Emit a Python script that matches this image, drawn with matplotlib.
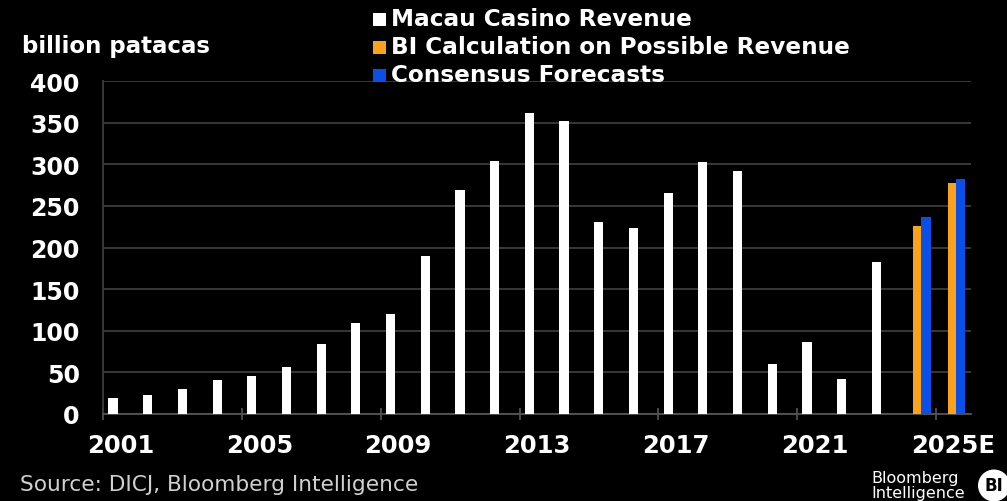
import matplotlib
matplotlib.use("Agg")
import matplotlib.pyplot as plt
from matplotlib.patches import Rectangle, Ellipse
import numpy as np

# ---- data ----
years = ["2001", "2002", "2003", "2004", "2005", "2006", "2007", "2008", "2009",
         "2010", "2011", "2012", "2013", "2014", "2015", "2016", "2017", "2018",
         "2019", "2020", "2021", "2022", "2023", "2024", "2025E"]
macau_revenue = [19.5, 23.0, 29.5, 41.0, 46.0, 57.0, 84.0, 109.5, 120.0,
                 189.5, 268.5, 304.0, 361.0, 352.0, 231.0, 223.0, 266.0, 303.0,
                 292.0, 60.5, 87.0, 42.5, 183.0, None, None]
bi_calc = [None] * 23 + [226.0, 277.0]
consensus = [None] * 23 + [236.5, 282.5]
tick_label_years = ["2001", "2005", "2009", "2013", "2017", "2021", "2025E"]
y_ticks = [0, 50, 100, 150, 200, 250, 300, 350, 400]
legend_labels = ["Macau Casino Revenue", "BI Calculation on Possible Revenue", "Consensus Forecasts"]

WHITE = "#ffffff"
ORANGE = "#fba21c"
BLUE = "#0a50e8"
GRID = "#3c3c3c"

fig = plt.figure(figsize=(10.07, 5.02), dpi=100, facecolor="black")
ax = fig.add_axes([103.3 / 1007, 1 - 415 / 502, (970.7 - 103.3) / 1007, (415 - 82) / 502])
ax.set_facecolor("black")

w = 0.265

def pick(vals):
    xs, hs = [], []
    for i, v in enumerate(vals):
        if v is not None:
            xs.append(i)
            hs.append(v)
    return np.array(xs), np.array(hs)

xw, hw = pick(macau_revenue)
xo, ho = pick(bi_calc)
xb, hb = pick(consensus)
ax.bar(xw - 0.22, hw, width=w, color=WHITE, zorder=3)
ax.bar(xo - 0.02, ho, width=w, color=ORANGE, zorder=3)
ax.bar(xb + 0.21, hb, width=w, color=BLUE, zorder=4)

ax.set_xlim(-0.5, len(years) - 0.5)
ax.set_ylim(0, 400)

ax.set_yticks(y_ticks)
ax.set_yticklabels([str(v) for v in y_ticks], color="white", fontsize=17, fontweight="bold")
ax.tick_params(axis="y", length=0, pad=17)
ax.yaxis.grid(True, color=GRID, linewidth=1.3, zorder=0)

label_pos = [years.index(t) for t in tick_label_years]
ax.set_xticks(label_pos)
ax.set_xticklabels(tick_label_years, color="white", fontsize=17.5, fontweight="bold")
ax.tick_params(axis="x", which="major", length=0, pad=14)
ax.set_xticks([p - 0.5 for p in label_pos], minor=True)
ax.tick_params(axis="x", which="minor", length=9, direction="inout", color="#555555", width=1.2)

for s in ["top", "right"]:
    ax.spines[s].set_visible(False)
ax.spines["left"].set_color(GRID)
ax.spines["left"].set_linewidth(1.3)
ax.spines["bottom"].set_color("#555555")
ax.spines["bottom"].set_linewidth(1.3)

# unit label
fig.text(22 / 1007, 1 - 46 / 502, "billion patacas", color="white", fontsize=16.5,
         fontweight="bold", va="center", ha="left")

# legend
leg_colors = [WHITE, ORANGE, BLUE]
leg_y = [20, 48, 76]
for lab, col, yy in zip(legend_labels, leg_colors, leg_y):
    fig.patches.append(Rectangle((373 / 1007, 1 - (yy + 6.5) / 502), 13 / 1007, 13 / 502,
                                 transform=fig.transFigure, facecolor=col, edgecolor="none"))
    fig.text(391 / 1007, 1 - yy / 502, lab, color="white", fontsize=16.7,
             fontweight="bold", va="center", ha="left")

# source
fig.text(20 / 1007, 1 - 485 / 502, "Source: DICJ, Bloomberg Intelligence", color="#d0d0d0",
         fontsize=15.6, va="center", ha="left")

# logo
fig.text(871 / 1007, 1 - 486 / 502, "Bloomberg\nIntelligence", color="white", fontsize=11.5,
         va="center", ha="left", multialignment="left", linespacing=0.95)
fig.patches.append(Ellipse((994 / 1007, 1 - 486.5 / 502), 32 / 1007, 32 / 502,
                           transform=fig.transFigure, facecolor="white", edgecolor="none"))
fig.text(994 / 1007, 1 - 486.5 / 502, "BI", color="black", fontsize=12, fontweight="bold",
         va="center", ha="center")

fig.savefig("out.png", dpi=100, facecolor="black")
